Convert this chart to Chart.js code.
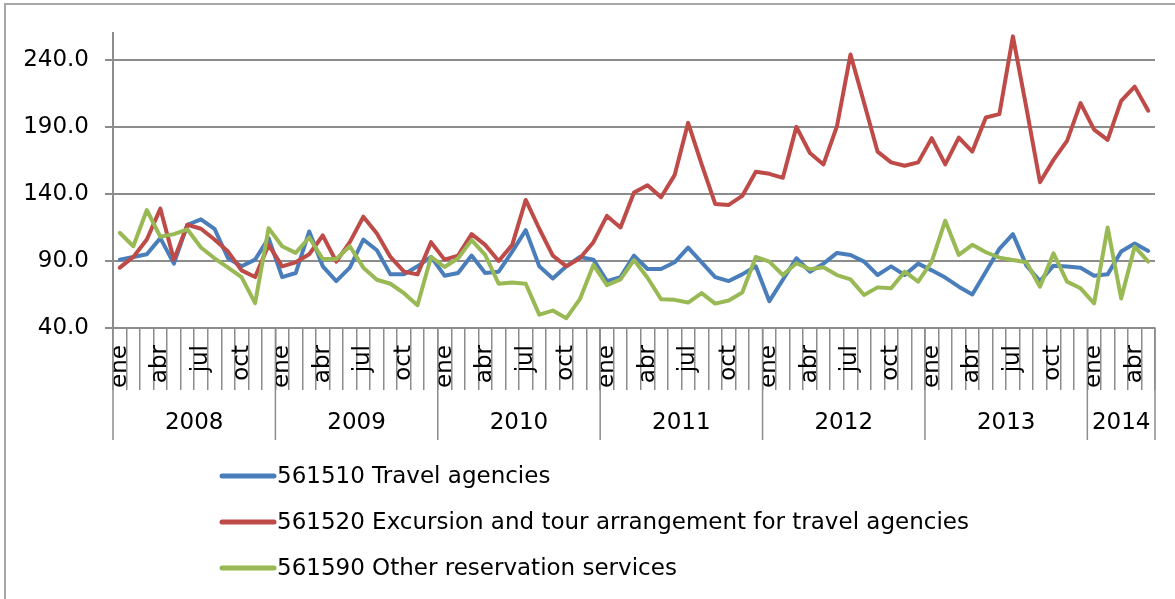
<!DOCTYPE html>
<html>
<head>
<meta charset="utf-8">
<script src="https://cdn.jsdelivr.net/npm/chart.js@4.4.0/dist/chart.umd.min.js"></script>
<style>
    html, body { margin: 0; padding: 0; background: #fff; }
    #wrap { position: relative; width: 1175px; height: 599px; }
</style>
</head>
<body>
<div id="wrap"><canvas id="indexChart"></canvas></div>
<script>
// Category data: months Jan 2008 .. May 2014
const monthNames = ['ene', 'feb', 'mar', 'abr', 'may', 'jun', 'jul', 'ago', 'sep', 'oct', 'nov', 'dic'];
const yearLabels = ['2008', '2009', '2010', '2011', '2012', '2013', '2014'];
const monthsInYear = [12, 12, 12, 12, 12, 12, 5];
const yTicks = [40, 90, 140, 190, 240];

const seriesNames = [
    '561510 Travel agencies',
    '561520 Excursion and tour arrangement for travel agencies',
    '561590 Other reservation services'
];

const travelAgencies = [
    91, 93, 95, 107, 88, 117, 121, 114, 92, 86, 91, 107,
    78, 81, 112, 86, 75, 85, 106, 98, 80, 80, 86, 93,
    79, 81, 94, 81, 82, 97, 113, 86, 77, 86, 93, 91,
    75, 78, 94, 84, 84, 89, 100, 89, 78, 75, 80, 86,
    60, 76, 92, 82, 88, 96, 94.5, 89.5, 79.5, 86, 79.5, 88,
    83, 77.6, 70.8, 65, 82, 99, 110, 86.5, 75, 86.5, 85.8, 85,
    79, 80, 97, 103, 97.5
];

const excursionTours = [
    85, 93, 106, 129, 91, 117, 114, 106, 97, 83, 78, 102,
    86, 89, 95, 109, 89.5, 104, 123, 110.5, 93, 82, 80, 104,
    91, 94, 110, 102, 90, 102, 135.5, 114, 94, 86, 92, 104,
    123.6, 115, 141, 146.5, 137.5, 154, 193, 162, 132.5, 131.8, 138.5, 156.5,
    155, 152, 190, 170.5, 162, 190.5, 244, 208, 171.5, 163.5, 161, 163.5,
    181.6, 162, 182, 171.6, 197, 199.5, 257.5, 204, 148.7, 165.4, 179.6, 207.7,
    188, 180.3, 209.4, 220, 202
];

const otherReservation = [
    111, 101, 128, 108, 110, 113.5, 100, 92, 85, 78, 58.5, 114.5,
    101, 96, 107.5, 91.5, 91.5, 101, 85, 76, 73, 66, 57, 93,
    85.5, 92, 105.5, 94.5, 73, 74, 73, 50, 53, 47.3, 61.5, 87,
    72, 76.3, 90.7, 77.5, 61.4, 61, 59, 66, 58.2, 60.5, 66.5, 93,
    89.5, 79.5, 88.3, 83.8, 85.3, 79.5, 76.3, 64.6, 70.3, 69.6, 82, 74.6,
    89.5, 120, 94.5, 102, 96.5, 92.5, 90.7, 89, 70.8, 95.7, 74.6, 69.6,
    58.4, 115, 62, 100.7, 89.5
];

const seriesColors = ['#4A7EBB', '#BE4B48', '#98B954'];
const axisGray = '#8c8c8c';
const fontFamily = '"DejaVu Sans", sans-serif';

// month labels for the category axis
const labels = [];
monthsInYear.forEach(n => {
    for (let m = 0; m < n; m++) labels.push(monthNames[m]);
});

// outer frame (only left and top edges are visible in the picture)
const framePlugin = {
    id: 'frame',
    beforeDraw(chart) {
        const ctx = chart.ctx;
        ctx.save();
        ctx.fillStyle = '#fff';
        ctx.fillRect(0, 0, chart.width, chart.height);
        ctx.strokeStyle = '#a6a6a6';
        ctx.lineWidth = 2;
        ctx.beginPath();
        ctx.moveTo(5, chart.height);
        ctx.lineTo(5, 4);
        ctx.lineTo(chart.width, 4);
        ctx.stroke();
        ctx.restore();
    }
};

// second row of the x axis: year groups
const yearRowPlugin = {
    id: 'yearRow',
    afterDraw(chart) {
        const x = chart.scales.x;
        const ctx = chart.ctx;
        const bottom = chart.chartArea.bottom;
        const half = (x.getPixelForValue(1) - x.getPixelForValue(0)) / 2;
        let start = 0;
        ctx.save();
        ctx.strokeStyle = axisGray;
        ctx.lineWidth = 1.5;
        ctx.fillStyle = '#000';
        ctx.font = '23px ' + fontFamily;
        ctx.textAlign = 'center';
        ctx.textBaseline = 'middle';
        yearLabels.forEach((yr, k) => {
            const end = start + monthsInYear[k];
            const x0 = x.getPixelForValue(start) - half;
            const x1 = x.getPixelForValue(end - 1) + half;
            ctx.beginPath();
            ctx.moveTo(x0, bottom);
            ctx.lineTo(x0, 440);
            if (k === yearLabels.length - 1) {
                ctx.moveTo(x1, bottom);
                ctx.lineTo(x1, 440);
            }
            ctx.stroke();
            ctx.fillText(yr, (x0 + x1) / 2, 423);
            start = end;
        });
        ctx.restore();
    }
};

// legend stacked in three rows under the chart
const stackedLegendPlugin = {
    id: 'stackedLegend',
    afterDraw(chart) {
        const ctx = chart.ctx;
        const rows = [476, 522, 568];
        ctx.save();
        ctx.font = '23px ' + fontFamily;
        ctx.textAlign = 'left';
        ctx.textBaseline = 'middle';
        chart.data.datasets.forEach((ds, i) => {
            const y = rows[i];
            ctx.strokeStyle = ds.borderColor;
            ctx.lineWidth = 5;
            ctx.lineCap = 'round';
            ctx.beginPath();
            ctx.moveTo(222, y);
            ctx.lineTo(274, y);
            ctx.stroke();
            ctx.fillStyle = '#000';
            ctx.fillText(ds.label, 277, y + 1);
        });
        ctx.restore();
    }
};

function makeDataset(i, values, order) {
    return {
        label: seriesNames[i],
        data: values,
        borderColor: seriesColors[i],
        backgroundColor: seriesColors[i],
        borderWidth: 4,
        borderJoinStyle: 'round',
        borderCapStyle: 'round',
        pointRadius: 0,
        tension: 0,
        fill: false,
        order: order
    };
}

new Chart(document.getElementById('indexChart'), {
    type: 'line',
    data: {
        labels: labels,
        datasets: [
            makeDataset(0, travelAgencies, 3),
            makeDataset(1, excursionTours, 2),
            makeDataset(2, otherReservation, 1)
        ]
    },
    options: {
        responsive: true,
        maintainAspectRatio: false,
        animation: false,
        layout: {
            padding: { left: 0, top: 33, right: 20, bottom: 0 }
        },
        plugins: {
            legend: { display: false },
            tooltip: { enabled: false },
            title: { display: false }
        },
        scales: {
            x: {
                type: 'category',
                offset: true,
                grid: {
                    offset: true,
                    drawOnChartArea: false,
                    color: axisGray,
                    lineWidth: 1.5,
                    tickLength: 62
                },
                border: { color: axisGray, width: 2 },
                ticks: {
                    autoSkip: false,
                    minRotation: 90,
                    maxRotation: 90,
                    padding: -45,
                    color: '#000',
                    font: { family: fontFamily, size: 23 },
                    callback: function (value, index) {
                        return index % 3 === 0 ? this.getLabelForValue(value) : '';
                    }
                },
                afterFit: function (scale) {
                    scale.height = 271;
                }
            },
            y: {
                min: 40,
                max: 260,
                grid: {
                    color: axisGray,
                    lineWidth: 2,
                    tickLength: 8
                },
                border: { color: axisGray, width: 2 },
                ticks: {
                    padding: 16,
                    color: '#000',
                    font: { family: fontFamily, size: 23 },
                    callback: function (value) {
                        return value.toFixed(1);
                    }
                },
                afterBuildTicks: function (scale) {
                    scale.ticks = yTicks.map(v => ({ value: v }));
                },
                afterFit: function (scale) {
                    scale.width = 113;
                }
            }
        }
    },
    plugins: [framePlugin, yearRowPlugin, stackedLegendPlugin]
});
</script>
</body>
</html>
